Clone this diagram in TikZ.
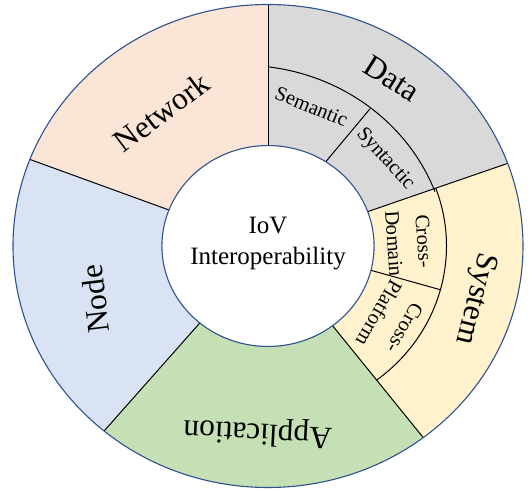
\documentclass[tikz,border=0pt]{standalone}
\usepackage{fontspec}
\setmainfont{Liberation Serif}

\definecolor{netfill}{HTML}{FBE5D6}
\definecolor{datafill}{HTML}{D9D9D9}
\definecolor{sysfill}{HTML}{FFF2CC}
\definecolor{appfill}{HTML}{C5E0B4}
\definecolor{nodefill}{HTML}{DAE3F3}
\definecolor{rimblue}{HTML}{2F528F}

% one annular sector between the hub and the rim, from angle #1 to angle #2
\newcommand\ringsector[3]{%
  \fill[#3] (#1:0.416) -- (#1:1)
    arc[start angle=#1, end angle=#2, x radius=255bp, y radius=241.5bp]
    -- (#2:0.416)
    arc[start angle=#2, end angle=#1, x radius=106.08bp, y radius=100.46bp]
    -- cycle;}

\begin{document}
\begin{tikzpicture}[x=255bp, y=241.5bp,
  divider/.style={line width=1bp, draw=black},
  rim/.style={line width=1.1bp, draw=rimblue},
  biglabel/.style={font=\fontsize{31.5bp}{38bp}\selectfont, inner sep=0pt},
  sublabel/.style={font=\fontsize{20.5bp}{30bp}\selectfont, inner sep=0pt, align=center},
  hublabel/.style={font=\fontsize{25bp}{31bp}\selectfont, inner sep=0pt, align=center}]
\useasboundingbox (-268bp,-245bp) rectangle (264bp,246bp);

% coloured sectors of the ring
\ringsector{90}{20}{datafill}
\ringsector{20}{-52.5}{sysfill}
\ringsector{-52.5}{-130}{appfill}
\ringsector{230}{159}{nodefill}
\ringsector{159}{90}{netfill}

% radial dividers between the main sectors
\foreach \a in {90,20,-52.5,230,159}
  \draw[divider] (\a:0.416) -- (\a:1);

% inner sub-ring of the Data sector
\coordinate (dataTop) at (0,0.742);
\draw[divider] (dataTop)
  arc[start angle=82.8, end angle=20.6, x radius=206.0bp, y radius=195.1bp];
\coordinate (semIn) at (57:0.416);
\coordinate (semOut) at (0.4,0.568);
\draw[divider] (semIn) -- (semOut);

% inner sub-ring of the System sector
\coordinate (sysTop) at (20:0.70);
\draw[divider] (sysTop)
  arc[start angle=20, end angle=-52.5, x radius=178.5bp, y radius=169.05bp];
\coordinate (crossIn) at (-14:0.416);
\coordinate (crossOut) at (-15:0.70);
\draw[divider] (crossIn) -- (crossOut);

% rim and hub
\draw[rim] (0,0) ellipse[x radius=255bp, y radius=241.5bp];
\draw[rim, fill=white] (0,0) ellipse[x radius=106.08bp, y radius=100.46bp];

% labels
\node[hublabel] (hub) at (0bp,2bp) {IoV\\Interoperability};

\node[biglabel, rotate=37]  (network) at (127:0.694) {Network};
\node[biglabel, rotate=-32] (data)    at (55:0.847)  {Data};
\node[biglabel, rotate=-104](system)  at (-15:0.84)  {System};
\node[biglabel, rotate=177] (app)     at (-93:0.77)  {Application};
\node[biglabel, rotate=97]  (nodelbl) at (198:0.713) {Node};

\node[sublabel, rotate=-22]  (semantic)  at (73.5:0.602) {Semantic};
\node[sublabel, rotate=-48]  (syntactic) at (38:0.583)   {Syntactic};
\node[sublabel, rotate=-86]  (xdomain)   at (1.5:0.553)  {Cross-\\Domain};
\node[sublabel, rotate=-120] (xplatform) at (-32.5:0.576) {Cross-\\Platform};
\end{tikzpicture}
\end{document}
